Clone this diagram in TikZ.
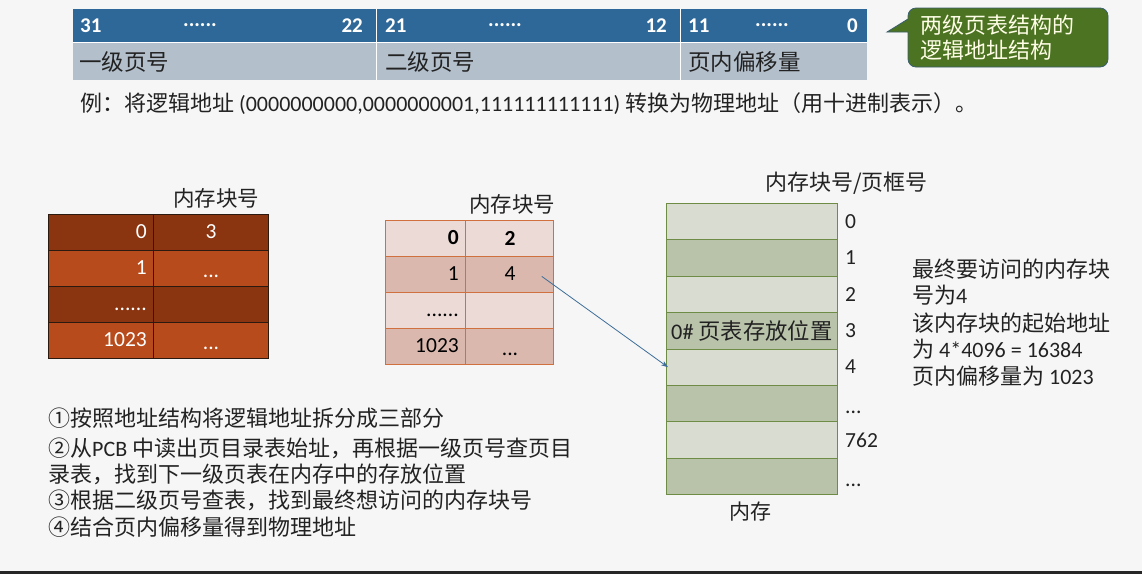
\documentclass[tikz,border=0pt]{standalone}
\usepackage{fontspec}
\usetikzlibrary{arrows.meta}
\setmainfont{Carlito}
\newfontfamily\cjk{Noto Sans CJK SC}
\definecolor{bgc}{HTML}{F6F6F6}
\definecolor{hdrblue}{HTML}{2E6898}
\definecolor{rowgrey}{HTML}{B3BFCB}
\definecolor{calloutg}{HTML}{4B7322}
\definecolor{calloutb}{HTML}{3A5F6F}
\definecolor{ldark}{HTML}{8A3410}
\definecolor{llight}{HTML}{B84B1C}
\definecolor{lborder}{HTML}{2A1A10}
\definecolor{mlight}{HTML}{EBDAD6}
\definecolor{mdark}{HTML}{DAB8AE}
\definecolor{mborder}{HTML}{D0703F}
\definecolor{memlight}{HTML}{D9DDD1}
\definecolor{memdark}{HTML}{B9C3AA}
\definecolor{memborder}{HTML}{6E8C45}
\definecolor{arrowc}{HTML}{3D6E9A}
\definecolor{txt}{HTML}{222222}
\newcommand{\lat}[1]{{\fontspec{Carlito}#1}}
\begin{document}
\begin{tikzpicture}[x=1pt,y=-1pt,
  txtstyle/.style={inner sep=0pt,text=txt,font=\fontsize{21.5}{24}\selectfont},
  cjkstyle/.style={inner sep=0pt,text=txt,font=\cjk\fontsize{22}{26}\selectfont},
  hdrnum/.style={inner sep=0pt,text=white,font=\bfseries\fontsize{21}{24}\selectfont},
  cell/.style={draw,minimum width=#1,minimum height=36pt,inner sep=0pt,anchor=north west},
  lcell/.style={cell=#1,draw=lborder,line width=0.8pt},
  mcell/.style={cell=#1,draw=mborder,line width=0.8pt},
  memcell/.style={draw=memborder,line width=0.8pt,minimum width=171pt,minimum height=36.4pt,inner sep=0pt,anchor=north west},
  lnum/.style={inner sep=0pt,text=white,font=\fontsize{21.5}{24}\selectfont},
  mnum/.style={inner sep=0pt,text=black,font=\fontsize{21.5}{24}\selectfont},
  conn/.style={draw=arrowc,line width=0.8pt,-{Stealth[length=7pt,width=5pt]}}
]
\useasboundingbox (0,0) rectangle (1142,574);
\fill[bgc] (0,0) rectangle (1142,574);
\fill[black!85] (0,571) rectangle (1142,574);

% ---- top address structure table
\node[fill=hdrblue,minimum width=303pt,minimum height=33pt,inner sep=0pt,anchor=north west] (h1) at (73,9) {};
\node[fill=hdrblue,minimum width=304pt,minimum height=33pt,inner sep=0pt,anchor=north west] (h2) at (376,9) {};
\node[fill=hdrblue,minimum width=187pt,minimum height=33pt,inner sep=0pt,anchor=north west] (h3) at (680,9) {};
\node[fill=rowgrey,minimum width=303pt,minimum height=38pt,inner sep=0pt,anchor=north west] (g1) at (73,42) {};
\node[fill=rowgrey,minimum width=304pt,minimum height=38pt,inner sep=0pt,anchor=north west] (g2) at (376,42) {};
\node[fill=rowgrey,minimum width=187pt,minimum height=38pt,inner sep=0pt,anchor=north west] (g3) at (680,42) {};
\draw[white,line width=1pt] (376,9) -- (376,80) (680,9) -- (680,80) (73,42) -- (867,42);

\node[hdrnum,anchor=west] (t31) at (80,25.5) {31};
\node[hdrnum] (td1) at (200,25.5) {......};
\node[hdrnum,anchor=east] (t22) at (363,25.5) {22};
\node[hdrnum,anchor=west] (t21) at (385,25.5) {21};
\node[hdrnum] (td2) at (505,25.5) {......};
\node[hdrnum,anchor=east] (t12) at (667,25.5) {12};
\node[hdrnum,anchor=west] (t11) at (688,25.5) {11};
\node[hdrnum] (td3) at (772,25.5) {......};
\node[hdrnum,anchor=east] (t0) at (858,25.5) {0};

\node[cjkstyle,anchor=west,font=\cjk\fontsize{22.5}{26}\selectfont] (lab1) at (79,62) {一级页号};
\node[cjkstyle,anchor=west,font=\cjk\fontsize{22.5}{26}\selectfont] (lab2) at (385,62) {二级页号};
\node[cjkstyle,anchor=west,font=\cjk\fontsize{22.5}{26}\selectfont] (lab3) at (688,62) {页内偏移量};

% ---- callout
\path[fill=calloutg,draw=calloutb,line width=0.8pt,rounded corners=8pt]
  (908,40) -- (908,67) -- (1108,67) -- (1108,8) -- (908,8) [sharp corners] -- (908,19) -- (887,32) -- (908,32) -- cycle;
\node[anchor=west,inner sep=0pt,text=white!90!yellow,font=\cjk\fontsize{22}{25}\selectfont] (callout1) at (920,25) {两级页表结构的};
\node[anchor=west,inner sep=0pt,text=white!90!yellow,font=\cjk\fontsize{22}{25}\selectfont] (callout2) at (920,50) {逻辑地址结构};

% ---- example line
\node[cjkstyle,anchor=west] (example) at (80,104) {例：将逻辑地址 \lat{(0000000000,0000000001,111111111111)} 转换为物理地址（用十进制表示）。};

% ---- left table (page directory)
\node[cjkstyle,anchor=west,font=\cjk\fontsize{21.5}{26}\selectfont] (lt) at (173,198) {内存块号};
\node[lcell=105pt,fill=ldark] (l00) at (48,214) {};
\node[lcell=115pt,fill=ldark] (l01) at (153,214) {};
\node[lcell=105pt,fill=llight] (l10) at (48,250) {};
\node[lcell=115pt,fill=llight] (l11) at (153,250) {};
\node[lcell=105pt,fill=ldark] (l20) at (48,286) {};
\node[lcell=115pt,fill=ldark] (l21) at (153,286) {};
\node[lcell=105pt,fill=llight] (l30) at (48,322) {};
\node[lcell=115pt,fill=llight] (l31) at (153,322) {};
\node[lnum,anchor=east] (ln00) at (147,232) {0};
\node[lnum] (ln01) at (211,232) {3};
\node[lnum,anchor=east] (ln10) at (147,268) {1};
\node[lnum,anchor=base] (ln11) at (211,277) {...};
\node[lnum,anchor=base east] (ln20) at (147,310) {......};
\node[lnum,anchor=east] (ln30) at (147,340) {1023};
\node[lnum,anchor=base] (ln31) at (211,349) {...};

% ---- middle table (second-level page table)
\node[cjkstyle,anchor=west,font=\cjk\fontsize{21.5}{26}\selectfont] (mt) at (469,204) {内存块号};
\node[mcell=80pt,fill=mlight] (m00) at (385,220) {};
\node[mcell=88pt,fill=mlight] (m01) at (465,220) {};
\node[mcell=80pt,fill=mdark] (m10) at (385,256) {};
\node[mcell=88pt,fill=mdark] (m11) at (465,256) {};
\node[mcell=80pt,fill=mlight] (m20) at (385,292) {};
\node[mcell=88pt,fill=mlight] (m21) at (465,292) {};
\node[mcell=80pt,fill=mdark] (m30) at (385,328) {};
\node[mcell=88pt,fill=mdark] (m31) at (465,328) {};
\node[mnum,anchor=east,font=\bfseries\fontsize{21.5}{24}\selectfont] (mn00) at (459,238) {0};
\node[mnum,font=\bfseries\fontsize{21.5}{24}\selectfont] (mn01) at (510,238) {2};
\node[mnum,anchor=east] (mn10) at (459,274) {1};
\node[mnum] (mn11) at (510,274) {4};
\node[mnum,anchor=base east] (mn20) at (459,316) {......};
\node[mnum,anchor=east] (mn30) at (459,346) {1023};
\node[mnum,anchor=base] (mn31) at (510,355) {...};

% ---- memory
\node[cjkstyle,anchor=west] (memt) at (765,183) {内存块号/页框号};
\node[memcell,fill=memlight] (r0) at (666,203.0) {};
\node[memcell,fill=memdark]  (r1) at (666,239.4) {};
\node[memcell,fill=memlight] (r2) at (666,275.8) {};
\node[memcell,fill=memdark]  (r3) at (666,312.2) {};
\node[memcell,fill=memlight] (r4) at (666,348.6) {};
\node[memcell,fill=memdark]  (r5) at (666,385.0) {};
\node[memcell,fill=memlight] (r6) at (666,421.4) {};
\node[memcell,fill=memdark]  (r7) at (666,457.8) {};
\node[cjkstyle,anchor=west,font=\cjk\fontsize{22.3}{26}\selectfont] (r3t) at (671,331) {\lat{0\#} 页表存放位置};
\node[txtstyle,anchor=west] (k0) at (845,222) {0};
\node[txtstyle,anchor=west] (k1) at (845,258) {1};
\node[txtstyle,anchor=west] (k2) at (845,295) {2};
\node[txtstyle,anchor=west] (k3) at (845,331) {3};
\node[txtstyle,anchor=west] (k4) at (845,367) {4};
\node[txtstyle,anchor=base west] (k5) at (845,413) {...};
\node[txtstyle,anchor=west] (k6) at (845,440) {762};
\node[txtstyle,anchor=base west] (k7) at (845,486) {...};
\node[cjkstyle,anchor=west,font=\cjk\fontsize{21}{26}\selectfont] (memlab) at (729,512) {内存};

% ---- connector
\draw[conn] ([xshift=-12pt,yshift=-2pt]m11.east) -- ([xshift=2pt]r4.west);

% ---- right explanation
\node[cjkstyle,anchor=west] (e1) at (912,269) {最终要访问的内存块};
\node[cjkstyle,anchor=west] (e2) at (912,295) {号为\lat{4}};
\node[cjkstyle,anchor=west] (e3) at (912,323) {该内存块的起始地址};
\node[cjkstyle,anchor=west] (e4) at (912,349) {为 \lat{4*4096 = 16384}};
\node[cjkstyle,anchor=west] (e5) at (912,376) {页内偏移量为 \lat{1023}};

% ---- steps
\node[cjkstyle,anchor=west] (s1) at (48,418) {①按照地址结构将逻辑地址拆分成三部分};
\node[cjkstyle,anchor=west] (s2) at (48,448) {②从\lat{PCB} 中读出页目录表始址，再根据一级页号查页目};
\node[cjkstyle,anchor=west] (s3) at (48,474) {录表，找到下一级页表在内存中的存放位置};
\node[cjkstyle,anchor=west] (s4) at (48,500) {③根据二级页号查表，找到最终想访问的内存块号};
\node[cjkstyle,anchor=west] (s5) at (48,527) {④结合页内偏移量得到物理地址};
\end{tikzpicture}
\end{document}
